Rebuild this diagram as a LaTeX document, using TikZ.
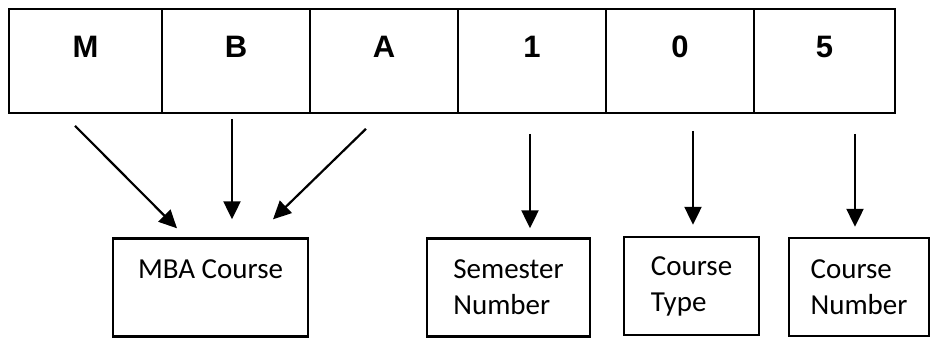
\documentclass[tikz,border=0pt]{standalone}
\usepackage{fontspec}
\setmainfont{Carlito}
\newfontfamily\codefont{Liberation Sans}
\usetikzlibrary{arrows.meta}
\begin{document}
\begin{tikzpicture}[x=1pt,y=-1pt,
        cell/.style={draw=black, line width=1.6pt,
        rectangle, minimum height=104pt},
        codechar/.style={anchor=base,
        font=\codefont\bfseries\fontsize{31}{36}\selectfont},
        field/.style={draw=black, line width=2.4pt,
        rectangle, align=left, minimum height=98pt,
        font=\fontsize{29}{36}\selectfont},
        pointer/.style={line width=2.2pt, -{Triangle[length=18pt,width=17pt]}}]
        \useasboundingbox (0,0) rectangle (931,338);
        %code cells
        \foreach \n/\l/\r/\t in
        {cM/9/162/M,cB/162/310/B,cA/310/458/A,
            c1/458/606/1,c0/606/754/0,c5/754/895/5}
        {
        \node[cell, minimum width={(\r-\l)*1pt}] (\n) at ({(\l+\r)/2},61) {};
        \node[codechar] (t\n) at ({(\l+\r)/2},57) {\t};
        }
        %meaning boxes
        \node[field, minimum width=195pt] (mba) at (210.5,287.5) {MBA Course\\~};
        \node[field, minimum width=163pt] (sem) at (508.5,287.5) {Semester\\Number};
        \node[field, minimum width=135pt] (type) at (691.5,286) {Course\\Type};
        \node[field, minimum width=140pt] (num) at (859,287) {Course\\Number};
        %arrows
        \draw[pointer] ([xshift=-10.5pt,yshift=-12pt]cM.south)
            -- ([xshift=-33.5pt,yshift=9pt]mba.north);
        \draw[pointer] ([xshift=-4pt,yshift=-5pt]cB.south)
            -- ([xshift=21.5pt,yshift=18pt]mba.north);
        \draw[pointer] ([xshift=-18pt,yshift=-15pt]cA.south)
            -- ([xshift=62.5pt,yshift=18pt]mba.north);
        \draw[pointer] ([xshift=-2pt,yshift=-20pt]c1.south)
            -- ([xshift=21.5pt,yshift=9pt]sem.north);
        \draw[pointer] ([xshift=13pt,yshift=-17pt]c0.south)
            -- ([xshift=1.5pt,yshift=11pt]type.north);
        \draw[pointer] ([xshift=30.5pt,yshift=-20pt]c5.south)
            -- ([xshift=-4pt,yshift=10pt]num.north);
    \end{tikzpicture}
\end{document}
